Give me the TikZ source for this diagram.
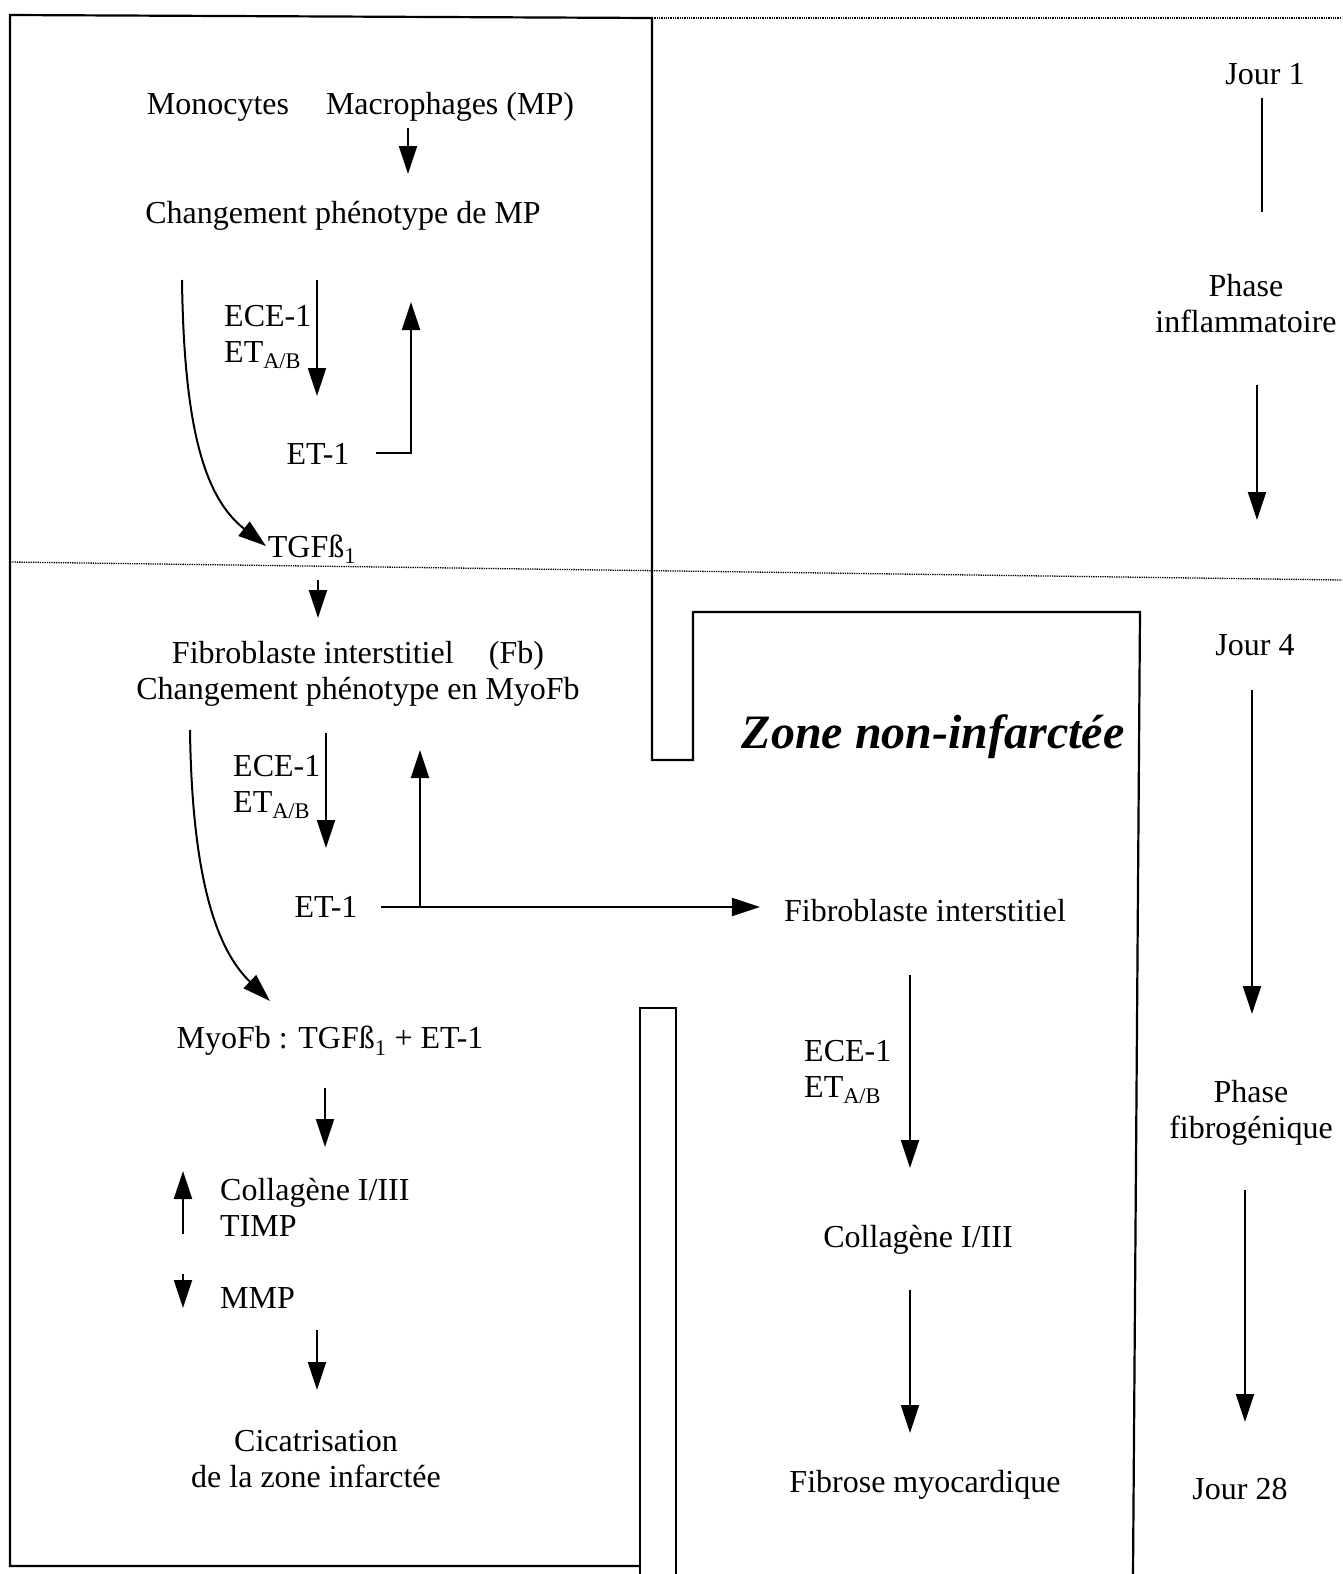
\documentclass[tikz,border=0pt]{standalone}
\usepackage{fontspec}
\setmainfont{Liberation Serif}
\usetikzlibrary{arrows.meta}
\begin{document}
\begin{tikzpicture}[x=1pt,y=-1pt,
  txt/.style={font=\fontsize{32}{36}\selectfont, inner sep=0pt, yshift=-4pt},
  big/.style={font=\fontsize{48}{52}\selectfont\bfseries\itshape, inner sep=0pt, yshift=-7pt},
  arr/.style={line width=2pt, -{Triangle[length=28pt,width=18pt]}},
  plain/.style={line width=2pt},
  boxline/.style={line width=2.2pt},
  dotline/.style={line width=1.3pt, densely dotted}]
\useasboundingbox (0,0) rectangle (1342,1574);
\fill[white] (0,0) rectangle (1342,1574);

% --- frames ---
\coordinate (tl) at (10,15);
\coordinate (tr) at (652,18);
\coordinate (bl) at (10,1566);
\coordinate (br) at (640,1566);
\draw[boxline] (br) -- (bl) -- (tl) -- (tr) -- (652,760) -- (693,760) -- (693,612) -- (1140,612) -- (1133,1574);
\draw[boxline] (640,1574) -- (640,1008) -- (676,1008) -- (676,1574);
\coordinate (dt1) at (652,18);
\coordinate (dt2) at (1342,18);
\draw[dotline] (dt1) -- (dt2);
\coordinate (dm1) at (10,562);
\coordinate (dm2) at (1342,580);
\draw[dotline] (dm1) -- (dm2);

% --- left: inflammatory zone ---
\node[txt] (mono) at (218,103) {Monocytes};
\node[txt] (macro) at (450,103) {Macrophages (MP)};
\coordinate (a1s) at (408,128); \coordinate (a1e) at (408,174);
\draw[arr] (a1s) -- (a1e);
\node[txt] (chg1) at (343,212) {Changement phénotype de MP};

\node[txt, anchor=west, align=left] (ece1) at (224,333) {ECE-1\\ET\textsubscript{A/B}};
\coordinate (a2s) at (317,280); \coordinate (a2e) at (317,396);
\draw[arr] (a2s) -- (a2e);
\node[txt] (et1a) at (318,450) {ET-1};
\coordinate (e1r) at (376,453); \coordinate (up1) at (411,302);
\draw[arr] (e1r) -| (up1);
\coordinate (c1s) at (182,280); \coordinate (c1e) at (266,546);
\draw[arr] (c1s) .. controls (184,430) and (205,498) .. (c1e);
\node[txt] (tgf) at (312,545) {TGFß\textsubscript{1}};

\coordinate (a3s) at (318,580); \coordinate (a3e) at (318,618);
\draw[arr] (a3s) -- (a3e);
\node[txt, align=center] (fib) at (358,670) {Fibroblaste interstitiel\hspace{1.1em}(Fb)\\Changement phénotype en MyoFb};

\node[txt, anchor=west, align=left] (ece2) at (233,783) {ECE-1\\ET\textsubscript{A/B}};
\coordinate (a4s) at (326,733); \coordinate (a4e) at (326,848);
\draw[arr] (a4s) -- (a4e);
\node[txt] (et1b) at (326,903) {ET-1};
\coordinate (e2r) at (381,907);
\coordinate (up2s) at (420,907); \coordinate (up2e) at (420,750);
\draw[arr] (up2s) -- (up2e);
\coordinate (c2s) at (190,730); \coordinate (c2e) at (270,1001);
\draw[arr] (c2s) .. controls (192,880) and (217,950) .. (c2e);

\node[txt] (myo) at (330,1037) {MyoFb : TGFß\textsubscript{1} + ET-1};
\coordinate (a5s) at (325,1088); \coordinate (a5e) at (325,1147);
\draw[arr] (a5s) -- (a5e);
\coordinate (a6s) at (183,1234); \coordinate (a6e) at (183,1171);
\draw[arr] (a6s) -- (a6e);
\node[txt, anchor=west, align=left] (col) at (220,1203) {Collagène I/III\\TIMP};
\coordinate (a7s) at (183,1274); \coordinate (a7e) at (183,1308);
\draw[arr] (a7s) -- (a7e);
\node[txt, anchor=west] (mmp) at (220,1294) {MMP};
\coordinate (a8s) at (317,1330); \coordinate (a8e) at (317,1390);
\draw[arr] (a8s) -- (a8e);
\node[txt, align=center] (cic) at (316,1455) {Cicatrisation\\de la zone infarctée};

% --- right: non-infarcted zone ---
\node[big] (zone) at (933,730) {Zone non-infarctée};
\node[txt] (fibR) at (925,907) {Fibroblaste interstitiel};
\draw[arr] (e2r) -- ([xshift=-24pt]fibR.west |- e2r);
\coordinate (b1s) at (910,975); \coordinate (b1e) at (910,1168);
\draw[arr] (b1s) -- (b1e);
\node[txt, anchor=west, align=left] (ece3) at (804,1068) {ECE-1\\ET\textsubscript{A/B}};
\node[txt] (colR) at (918,1236) {Collagène I/III};
\coordinate (b2s) at (910,1290); \coordinate (b2e) at (910,1433);
\draw[arr] (b2s) -- (b2e);
\node[txt] (fibrose) at (925,1481) {Fibrose myocardique};

% --- timeline ---
\node[txt] (j1) at (1265,70) {Jour 1};
\coordinate (t1s) at (1262,98); \coordinate (t1e) at (1262,212);
\draw[plain] (t1s) -- (t1e);
\node[txt, align=center] (ph1) at (1246,300) {Phase\\inflammatoire};
\coordinate (t2s) at (1257,385); \coordinate (t2e) at (1257,520);
\draw[arr] (t2s) -- (t2e);
\node[txt] (j4) at (1255,641) {Jour 4};
\coordinate (t3s) at (1252,690); \coordinate (t3e) at (1252,1014);
\draw[arr] (t3s) -- (t3e);
\node[txt, align=center] (ph2) at (1251,1109) {Phase\\fibrogénique};
\coordinate (t4s) at (1245,1190); \coordinate (t4e) at (1245,1422);
\draw[arr] (t4s) -- (t4e);
\node[txt] (j28) at (1240,1485) {Jour 28};
\end{tikzpicture}
\end{document}
